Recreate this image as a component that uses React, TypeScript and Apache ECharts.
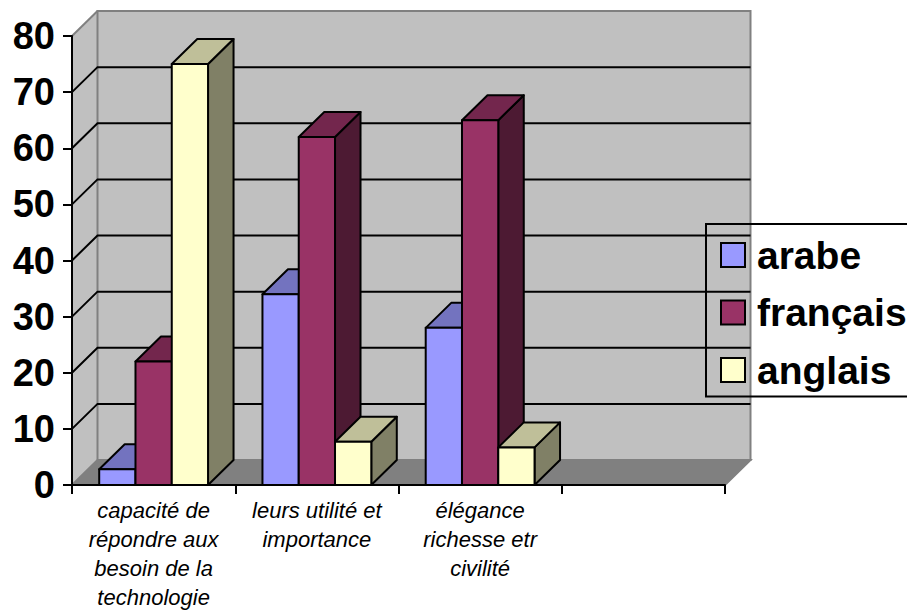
import React, { useEffect, useRef } from "react";
import * as echarts from "echarts";

const categories = [
  "capacité de\nrépondre aux\nbesoin de la\ntechnologie",
  "leurs utilité et\nimportance",
  "élégance\nrichesse etr\ncivilité",
  "",
];
const arabe = [2.8, 34, 28];
const francais = [22, 62, 65];
const anglais = [75, 7.7, 6.7];
const gridValues = [10, 20, 30, 40, 50, 60, 70];

const FONT = "'Liberation Sans', Arial, sans-serif";
const DEPTH_X = 25.5;
const DEPTH_Y = 25;
const BAR_SHARE = 1 / 4.5; // three bars plus a 150% gap in each category

type Api = any;

// Floor and the two walls, placed from the axes' own scales.
function renderWalls(_: any, api: Api) {
  const bl = api.coord([0, 0]);
  const tl = api.coord([0, 80]);
  const cat = api.size([1, 0])[0];
  const left = bl[0] - cat / 2;
  const right = api.coord([3, 0])[0] + cat / 2;
  const base = bl[1];
  const top = tl[1];
  const line = { stroke: "#808080", lineWidth: 2 };
  return {
    type: "group",
    children: [
      {
        type: "polygon",
        shape: { points: [[left, base], [left + DEPTH_X, base - DEPTH_Y], [left + DEPTH_X, top - DEPTH_Y], [left, top]] },
        style: { fill: "#C0C0C0", stroke: "none" },
      },
      {
        type: "rect",
        shape: { x: left + DEPTH_X, y: top - DEPTH_Y, width: right - left, height: base - top },
        style: { fill: "#C0C0C0", ...line },
      },
      {
        type: "polygon",
        shape: { points: [[left, base], [left + DEPTH_X, base - DEPTH_Y], [right + DEPTH_X, base - DEPTH_Y], [right, base]] },
        style: { fill: "#808080", ...line },
      },
      {
        type: "line",
        shape: { x1: left, y1: top, x2: left + DEPTH_X, y2: top - DEPTH_Y },
        style: line,
      },
    ],
  };
}

// One gridline: up the side wall, then along the back wall.
function renderGridLine(_: any, api: Api) {
  const p = api.coord([0, api.value(1)]);
  const cat = api.size([1, 0])[0];
  const left = p[0] - cat / 2;
  const right = api.coord([3, 0])[0] + cat / 2;
  return {
    type: "polyline",
    shape: { points: [[left, p[1]], [left + DEPTH_X, p[1] - DEPTH_Y], [right + DEPTH_X, p[1] - DEPTH_Y]] },
    style: { fill: "none", stroke: "#000", lineWidth: 2 },
  };
}

function makeBar(index: number, front: string, top: string, side: string) {
  return (_: any, api: Api) => {
    const c = api.coord([api.value(0), api.value(1)]);
    const base = api.coord([api.value(0), 0])[1];
    const cat = api.size([1, 0])[0];
    const w = cat * BAR_SHARE;
    const x = c[0] - 1.5 * w + index * w;
    const y = c[1];
    const stroke = { stroke: "#000", lineWidth: 2, lineJoin: "round" };
    return {
      type: "group",
      children: [
        {
          type: "polygon",
          shape: { points: [[x + w, y], [x + w + DEPTH_X, y - DEPTH_Y], [x + w + DEPTH_X, base - DEPTH_Y], [x + w, base]] },
          style: { fill: side, ...stroke },
        },
        {
          type: "polygon",
          shape: { points: [[x, y], [x + DEPTH_X, y - DEPTH_Y], [x + w + DEPTH_X, y - DEPTH_Y], [x + w, y]] },
          style: { fill: top, ...stroke },
        },
        {
          type: "rect",
          shape: { x, y, width: w, height: base - y },
          style: { fill: front, ...stroke },
        },
      ],
    };
  };
}

const barSeries = (name: string, values: number[], index: number, front: string, top: string, side: string) => ({
  name,
  type: "custom",
  silent: true,
  z: 3,
  renderItem: makeBar(index, front, top, side),
  itemStyle: { color: front, borderColor: "#000", borderWidth: 2 },
  encode: { x: 0, y: 1 },
  data: values.map((v, i) => [i, v]),
});

export default function App() {
  const ref = useRef<HTMLDivElement>(null);
  useEffect(() => {
    const chart = echarts.init(ref.current!, undefined, { renderer: "svg" });
    chart.setOption({
      animation: false,
      backgroundColor: "#fff",
      grid: { left: 72, right: 182, top: 36, bottom: 126, outerBoundsMode: "none" },
      legend: {
        data: ["arabe", "français", "anglais"],
        orient: "vertical",
        left: 706,
        top: 224,
        padding: [11.5, 10, 7, 14],
        itemWidth: 24,
        itemHeight: 24,
        itemGap: 18.5,
        icon: "rect",
        borderColor: "#000",
        borderWidth: 2,
        z: 20,
        textStyle: {
          color: "#000",
          fontFamily: FONT,
          fontWeight: "bold",
          fontSize: 39,
          lineHeight: 36,
          padding: [0, 0, 0, 7],
        },
      },
      xAxis: {
        type: "category",
        data: categories,
        z: 10,
        axisLine: { lineStyle: { color: "#000", width: 2 } },
        axisTick: { show: true, interval: 0, alignWithLabel: false, length: 9, lineStyle: { color: "#000", width: 2 } },
        axisLabel: {
          interval: 0,
          color: "#000",
          fontFamily: FONT,
          fontStyle: "italic",
          fontSize: 22,
          lineHeight: 29,
          margin: 11,
          align: "center",
        },
      },
      yAxis: {
        type: "value",
        min: 0,
        max: 80,
        interval: 10,
        z: 10,
        splitLine: { show: false },
        axisLine: { show: true, lineStyle: { color: "#000", width: 2 } },
        axisTick: { show: true, length: 9, lineStyle: { color: "#000", width: 2 } },
        axisLabel: {
          color: "#000",
          fontFamily: FONT,
          fontWeight: "bold",
          fontSize: 38,
          margin: 17,
        },
      },
      series: [
        { type: "custom", silent: true, z: 1, renderItem: renderWalls, encode: { x: 0, y: 1 }, data: [[0, 0]] },
        {
          type: "custom",
          silent: true,
          z: 2,
          renderItem: renderGridLine,
          encode: { x: 0, y: 1 },
          data: gridValues.map((v) => [0, v]),
        },
        barSeries("arabe", arabe, 0, "#9999FF", "#7373BF", "#4D4D80"),
        barSeries("français", francais, 1, "#993366", "#73264D", "#4D1A33"),
        barSeries("anglais", anglais, 2, "#FFFFCC", "#BFBF99", "#808066"),
      ],
    });
    return () => chart.dispose();
  }, []);
  return <div ref={ref} style={{ position: "fixed", left: 0, top: 0, width: 907, height: 611 }} />;
}
